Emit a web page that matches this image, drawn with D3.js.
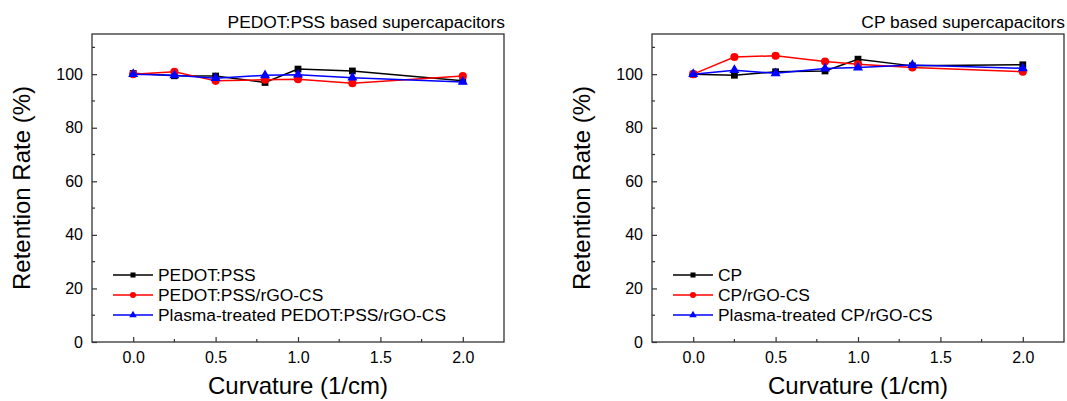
<!DOCTYPE html>
<html>
<head>
<meta charset="utf-8">
<script src="https://cdn.jsdelivr.net/npm/d3@7"></script>
<style>
  html, body { margin: 0; padding: 0; background: #fff; }
  svg { display: block; font-family: Arial, "Liberation Sans", sans-serif; }
</style>
</head>
<body>
<svg id="chart" width="1067" height="401"></svg>
<script>
// Curvature values (1/cm) shared by every series
const curvature = [0, 0.25, 0.5, 0.8, 1.0, 1.33, 2.0];

// PEDOT:PSS based supercapacitors – retention rate (%)
const pedotPss          = [100.3, 99.4, 99.3, 96.9, 101.9, 101.2, 97.5];
const pedotPssRgo       = [100.0, 100.9, 97.5, 97.9, 98.1, 96.6, 99.3];
const plasmaPedotPssRgo = [100.0, 99.6, 98.5, 99.6, 99.8, 98.7, 97.1];

// CP based supercapacitors – retention rate (%)
const cp          = [100.0, 99.6, 100.9, 101.2, 105.6, 103.1, 103.5];
const cpRgo       = [100.0, 106.4, 106.9, 104.7, 103.7, 102.5, 100.9];
const plasmaCpRgo = [100.0, 101.5, 100.3, 102.1, 102.5, 103.4, 102.2];

const xTicks = [0, 0.5, 1.0, 1.5, 2.0];
const yTicks = [0, 20, 40, 60, 80, 100];

const panels = [
  {
    title: "PEDOT:PSS based supercapacitors",
    left: 92, right: 504,
    series: [
      { name: "PEDOT:PSS", values: pedotPss, color: "#000000", symbol: d3.symbolSquare, size: 46 },
      { name: "PEDOT:PSS/rGO-CS", values: pedotPssRgo, color: "#ff0000", symbol: d3.symbolCircle, size: 52 },
      { name: "Plasma-treated PEDOT:PSS/rGO-CS", values: plasmaPedotPssRgo, color: "#0000ff", symbol: d3.symbolTriangle, size: 44 }
    ]
  },
  {
    title: "CP based supercapacitors",
    left: 652, right: 1064,
    series: [
      { name: "CP", values: cp, color: "#000000", symbol: d3.symbolSquare, size: 46 },
      { name: "CP/rGO-CS", values: cpRgo, color: "#ff0000", symbol: d3.symbolCircle, size: 52 },
      { name: "Plasma-treated CP/rGO-CS", values: plasmaCpRgo, color: "#0000ff", symbol: d3.symbolTriangle, size: 44 }
    ]
  }
];

const svg = d3.select("#chart");
const plotTop = 34, plotBottom = 342;
const frameColor = "#333";
const tickFont = 16, textFont = 17.4, labelFont = 24;

panels.forEach(p => {
  const g = svg.append("g");
  const x = d3.scaleLinear().domain([-0.25, 2.25]).range([p.left, p.right]);
  const y = d3.scaleLinear().domain([0, 115]).range([plotBottom, plotTop]);

  // minor ticks (inward)
  const xMinor = [0.25, 0.75, 1.25, 1.75];
  const yMinor = [10, 30, 50, 70, 90, 110];

  // bottom axis
  const xAxis = d3.axisBottom(x).tickValues(xTicks).tickFormat(d3.format(".1f"))
    .tickSizeInner(-5).tickSizeOuter(0).tickPadding(10);
  const gx = g.append("g").attr("transform", `translate(0,${plotBottom})`).call(xAxis);
  gx.select(".domain").remove();
  gx.selectAll("line").attr("stroke", frameColor).attr("stroke-width", 1.2);
  gx.selectAll("text").attr("font-size", tickFont).attr("fill", "#000");

  g.append("g").selectAll("line").data(xMinor).join("line")
    .attr("x1", d => x(d)).attr("x2", d => x(d))
    .attr("y1", plotBottom).attr("y2", plotBottom - 3)
    .attr("stroke", frameColor).attr("stroke-width", 1.2);

  // left axis
  const yAxis = d3.axisLeft(y).tickValues(yTicks).tickSizeInner(-5).tickSizeOuter(0).tickPadding(9);
  const gy = g.append("g").attr("transform", `translate(${p.left},0)`).call(yAxis);
  gy.select(".domain").remove();
  gy.selectAll("line").attr("stroke", frameColor).attr("stroke-width", 1.2);
  gy.selectAll("text").attr("font-size", tickFont).attr("fill", "#000");

  g.append("g").selectAll("line").data(yMinor).join("line")
    .attr("x1", p.left).attr("x2", p.left + 3)
    .attr("y1", d => y(d)).attr("y2", d => y(d))
    .attr("stroke", frameColor).attr("stroke-width", 1.2);

  // frame
  g.append("rect")
    .attr("x", p.left).attr("y", plotTop)
    .attr("width", p.right - p.left).attr("height", plotBottom - plotTop)
    .attr("fill", "none").attr("stroke", frameColor).attr("stroke-width", 1.3);

  // title
  g.append("text")
    .attr("x", p.right + 1).attr("y", 28)
    .attr("text-anchor", "end")
    .attr("font-size", textFont)
    .text(p.title);

  // axis labels
  g.append("text")
    .attr("x", (p.left + p.right) / 2).attr("y", 394)
    .attr("text-anchor", "middle").attr("font-size", labelFont)
    .text("Curvature (1/cm)");

  g.append("text")
    .attr("transform", `translate(${p.left - 62},${(plotTop + plotBottom) / 2}) rotate(-90)`)
    .attr("text-anchor", "middle").attr("font-size", labelFont)
    .text("Retention Rate (%)");

  // series
  const line = d3.line().x((d, i) => x(curvature[i])).y(d => y(d));
  p.series.forEach(s => {
    g.append("path")
      .datum(s.values)
      .attr("d", line)
      .attr("fill", "none")
      .attr("stroke", s.color)
      .attr("stroke-width", 1.5);
    g.append("g").selectAll("path").data(s.values).join("path")
      .attr("transform", (d, i) => `translate(${x(curvature[i])},${y(d)})`)
      .attr("d", d3.symbol().type(s.symbol).size(s.size))
      .attr("fill", s.color);
  });

  // legend
  const lg = g.append("g").attr("transform", `translate(${p.left + 21},0)`);
  p.series.forEach((s, i) => {
    const ly = 275 + i * 20;
    lg.append("line")
      .attr("x1", 0).attr("x2", 40).attr("y1", ly).attr("y2", ly)
      .attr("stroke", s.color).attr("stroke-width", 1.5);
    lg.append("path")
      .attr("transform", `translate(20,${ly})`)
      .attr("d", d3.symbol().type(s.symbol).size(s.size * 0.55))
      .attr("fill", s.color);
    lg.append("text")
      .attr("x", 45).attr("y", ly + 6)
      .attr("font-size", textFont)
      .text(s.name);
  });
});
</script>
</body>
</html>
